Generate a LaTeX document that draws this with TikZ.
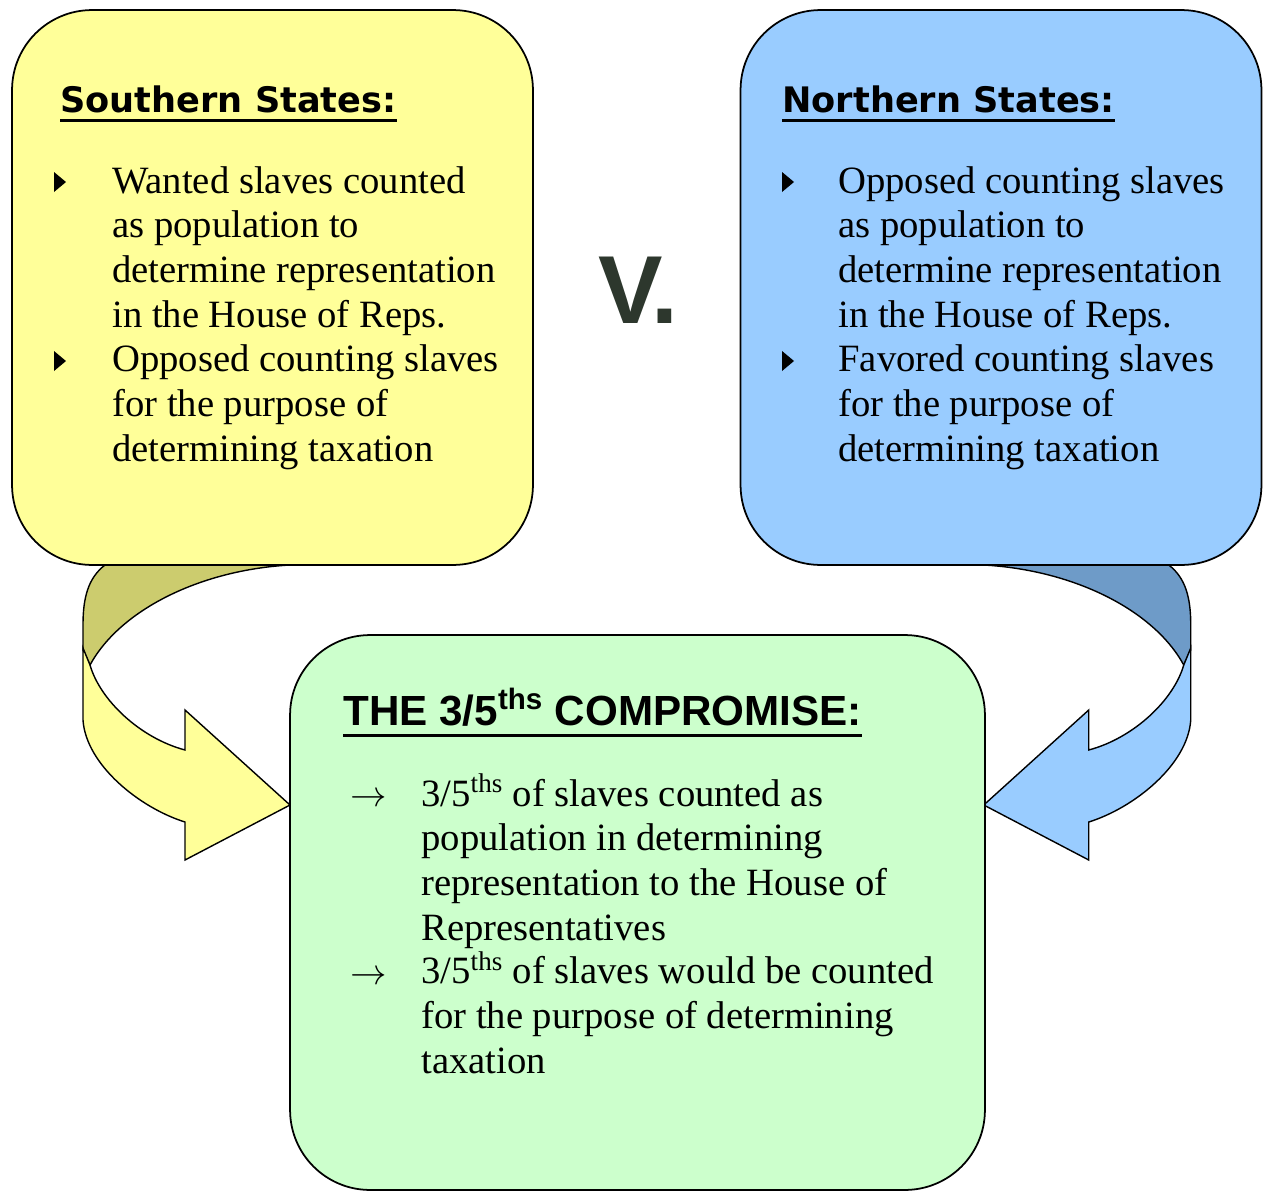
\documentclass[tikz,border=0pt]{standalone}
\usepackage{fontspec}
\setmainfont{Liberation Serif}
\newfontfamily\verdfont{DejaVu Sans}
\newfontfamily\arialfont{Liberation Sans}
\usepackage{tikz}
\definecolor{boxyellow}{RGB}{255,255,153}
\definecolor{boxblue}{RGB}{153,204,255}
\definecolor{boxgreen}{RGB}{204,255,204}
\definecolor{backyellow}{RGB}{204,204,110}
\definecolor{backblue}{RGB}{110,155,200}
\definecolor{vgray}{RGB}{45,55,45}

\newcommand{\bentarrow}[2]{%
  \filldraw[fill=#1] (105,565) -- (290,565) .. controls (200,570) and (120,610) .. (90,665)
    -- (83,650) -- (83,625) .. controls (83,598) and (88,578) .. (105,565) -- cycle;
  \filldraw[fill=#2] (83,648) -- (83,720) .. controls (86,765) and (140,808) .. (185,822)
    -- (185,860) -- (290,805) -- (185,710) -- (185,750)
    .. controls (140,738) and (100,700) .. (90,665) -- cycle;
}

\begin{document}
\begin{tikzpicture}[x=0.02cm, y=-0.02cm,
    box/.style={draw, line width=1pt, rounded corners=1.6cm, inner sep=0pt,
      minimum width=10.42cm, minimum height=11.1cm},
    head/.style={font=\verdfont\bfseries\fontsize{20}{24}\selectfont, inner sep=0pt, anchor=base west},
    body/.style={font=\fontsize{22}{25.4}\selectfont, align=left, inner sep=0pt, anchor=base west}]
  \useasboundingbox (0,0) rectangle (1272,1200);

  \begin{scope}[line width=0.8pt]
    \bentarrow{backyellow}{boxyellow}
    \begin{scope}[xshift=25.48cm, xscale=-1]
      \bentarrow{backblue}{boxblue}
    \end{scope}
  \end{scope}

  \node[box, fill=boxyellow] (south) at (272.5,287.5) {};
  \node[box, fill=boxblue] (north) at (1001,287.5) {};
  \node[box, fill=boxgreen, minimum width=13.9cm] (comp) at (637.5,912.5) {};

  \node[head] (southhead) at (60,112) {Southern States:};
  \draw[line width=1.7pt] ([yshift=-5pt]southhead.base west) -- ([yshift=-5pt]southhead.base east);
  \node[body] (south1) at (112,327) {Wanted slaves counted\\as population to\\determine representation\\in the House of Reps.};
  \node[body] (south2) at (112,461) {Opposed counting slaves\\for the purpose of\\determining taxation};

  \node[head] (northhead) at (782,112) {Northern States:};
  \draw[line width=1.7pt] ([yshift=-5pt]northhead.base west) -- ([yshift=-5pt]northhead.base east);
  \node[body] (north1) at (838,327) {Opposed counting slaves\\as population to\\determine representation\\in the House of Reps.};
  \node[body] (north2) at (838,461) {Favored counting slaves\\for the purpose of\\determining taxation};

  \foreach \bx/\by in {54/172, 54/351, 782/172, 782/351}
    \fill (\bx,\by) -- ++(12,10) -- ++(-12,10) -- cycle;

  \node[font=\arialfont\bfseries\fontsize{55}{55}\selectfont, text=vgray, inner sep=0pt, anchor=base west] (vs) at (598,323) {V\kern-0.12em.};

  \node[head, font=\arialfont\bfseries\fontsize{24}{28}\selectfont] (comphead) at (343,725) {THE 3/5\textsuperscript{ths} COMPROMISE:};
  \draw[line width=2pt] ([yshift=-6pt]comphead.base west) -- ([yshift=-6pt]comphead.base east);
  \node[body] (arr1) at (350,806) {$\rightarrow$};
  \node[body] (comp1) at (421,940) {3/5\textsuperscript{ths} of slaves counted as\\population in determining\\representation to the House of\\Representatives};
  \node[body] (arr2) at (350,984) {$\rightarrow$};
  \node[body] (comp2) at (421,1073) {3/5\textsuperscript{ths} of slaves would be counted\\for the purpose of determining\\taxation};
\end{tikzpicture}
\end{document}
